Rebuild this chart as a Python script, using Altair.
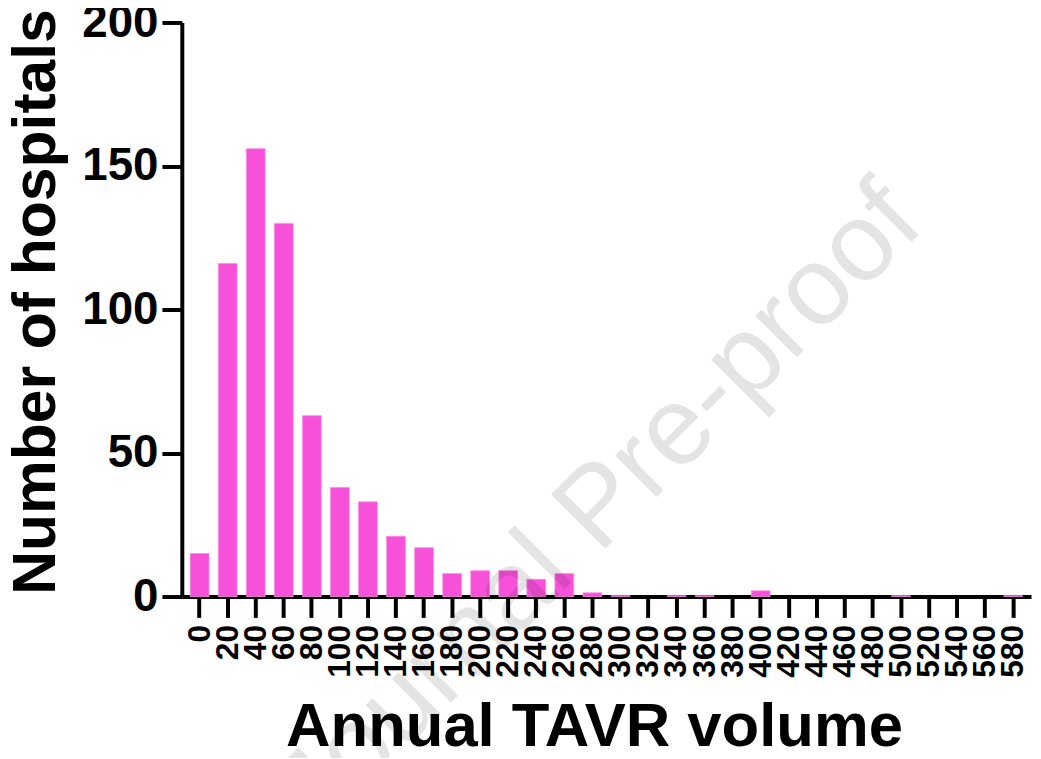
import altair as alt
import pandas as pd

volumes = [str(v) for v in range(0, 600, 20)]
counts = [15, 116, 156, 130, 63, 38, 33, 21, 17, 8, 9, 9, 6, 8, 1.3,
          0.3, 0, 0.3, 0.3, 0, 2, 0, 0, 0, 0, 0.3, 0, 0, 0, 0.3]

df = pd.DataFrame({"volume": volumes, "count": counts})

FONT = "Liberation Sans"

bars = alt.Chart(df).transform_filter("datum.count > 0").mark_bar(
    color="#F651D8", stroke="#FA8CE6", strokeWidth=0.8
).encode(
    x=alt.X("volume:N", sort=volumes,
            scale=alt.Scale(domain=volumes, paddingInner=0.33, paddingOuter=0.3),
            axis=alt.Axis(title="Annual TAVR volume", labelAngle=-90,
                          labelFont=FONT, labelFontWeight="bold", labelFontSize=32,
                          labelColor="black", labelPadding=7,
                          tickSize=21, tickWidth=4, tickColor="black",
                          domainWidth=4, domainColor="black",
                          titleFont=FONT, titleFontWeight="bold", titleFontSize=62,
                          titleColor="black", titlePadding=20, titleX=415)),
    y=alt.Y("count:Q", scale=alt.Scale(domain=[0, 200], nice=False),
            axis=alt.Axis(title="Number of hospitals", values=[0, 50, 100, 150, 200],
                          grid=False,
                          labelFont=FONT, labelFontWeight="bold", labelFontSize=46,
                          labelColor="black", labelPadding=4,
                          tickSize=20, tickWidth=4, tickColor="black",
                          domainWidth=4, domainColor="black",
                          titleFont=FONT, titleFontWeight="bold", titleFontSize=61,
                          titleColor="black", titlePadding=14, titleY=281)),
)

watermark = alt.Chart(pd.DataFrame({"t": ["Journal Pre-proof"]})).mark_text(
    font=FONT, fontSize=112, angle=315, color="black", opacity=0.1,
    align="center", baseline="middle"
).encode(text="t:N", x=alt.value(420), y=alt.value(488))

chart = alt.layer(bars, watermark).properties(
    width=855, height=578,
    autosize=alt.AutoSizeParams(type="none"),
    padding={"left": 175, "top": 12, "right": 2, "bottom": 160},
).configure_view(stroke=None)

chart.save("out.html", embed_options={"renderer": "svg", "actions": False})
